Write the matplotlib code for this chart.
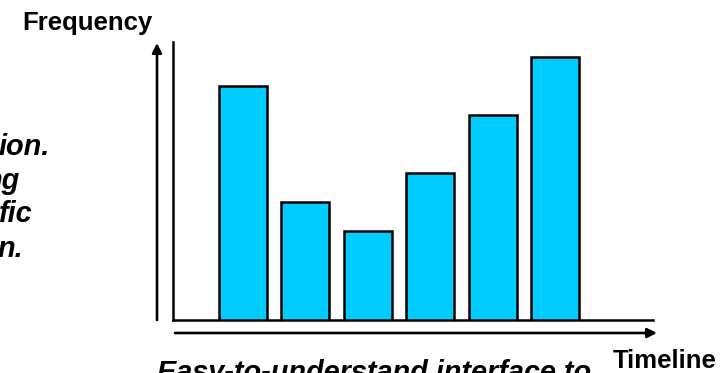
import matplotlib
matplotlib.use("Agg")
import matplotlib.pyplot as plt

categories = ["P1", "P2", "P3", "P4", "P5", "P6"]
values = [8.0, 4.04, 3.05, 5.03, 7.02, 9.0]
y_label = "Frequency"
x_label = "Timeline"
caption = "Easy-to-understand interface to"
side_fragments = ["ion.", "ng", "fic", "n."]

W, H = 722, 373
fig = plt.figure(figsize=(W / 100, H / 100), dpi=100)
plt.rcParams['font.family'] = ['Liberation Sans', 'DejaVu Sans']

def fx(px):
    return px / W

def fy(py):
    return 1 - py / H

# axes in pixel box: left 173, right 653, top 42, bottom 320
ax = fig.add_axes([fx(173), fy(320), fx(653) - fx(173), (320 - 42) / H])
xs = list(range(len(categories)))
ax.bar(xs, values, width=0.77, color="#00CCFF", edgecolor="black", linewidth=1.8, zorder=3)
ax.set_xlim(-1.122, 6.57)
ax.set_ylim(0, 9.52)
for s in ["top", "right"]:
    ax.spines[s].set_visible(False)
for s in ["left", "bottom"]:
    ax.spines[s].set_linewidth(1.8)
    ax.spines[s].set_color("black")
ax.set_xticks([])
ax.set_yticks([])
ax.patch.set_alpha(0)

arrow_kw = dict(arrowstyle="-|>", color="black", lw=1.9, mutation_scale=14,
                shrinkA=0, shrinkB=0)
fig.add_artist(matplotlib.patches.FancyArrowPatch((fx(157), fy(320)), (fx(157), fy(43)),
                                                  transform=fig.transFigure, **arrow_kw))
fig.add_artist(matplotlib.patches.FancyArrowPatch((fx(175), fy(333)), (fx(657), fy(333)),
                                                  transform=fig.transFigure, **arrow_kw))

fs = 18.5
fs_it = 20.8
fig.text(fx(22), fy(30), y_label, fontsize=fs, fontweight="bold", ha="left", va="baseline")
fig.text(fx(613), fy(368), x_label, fontsize=fs, fontweight="bold", ha="left", va="baseline")
fig.text(fx(157), fy(381), caption, fontsize=fs_it, fontweight="bold", style="italic",
         ha="left", va="baseline")

frag_x = [50, 20, 33, 23]
frag_y = [155, 189, 222, 257]
for t, x, y in zip(side_fragments, frag_x, frag_y):
    fig.text(fx(x), fy(y), t, fontsize=fs_it, fontweight="bold", style="italic",
             ha="right", va="baseline")

fig.savefig("out.png", dpi=100)
